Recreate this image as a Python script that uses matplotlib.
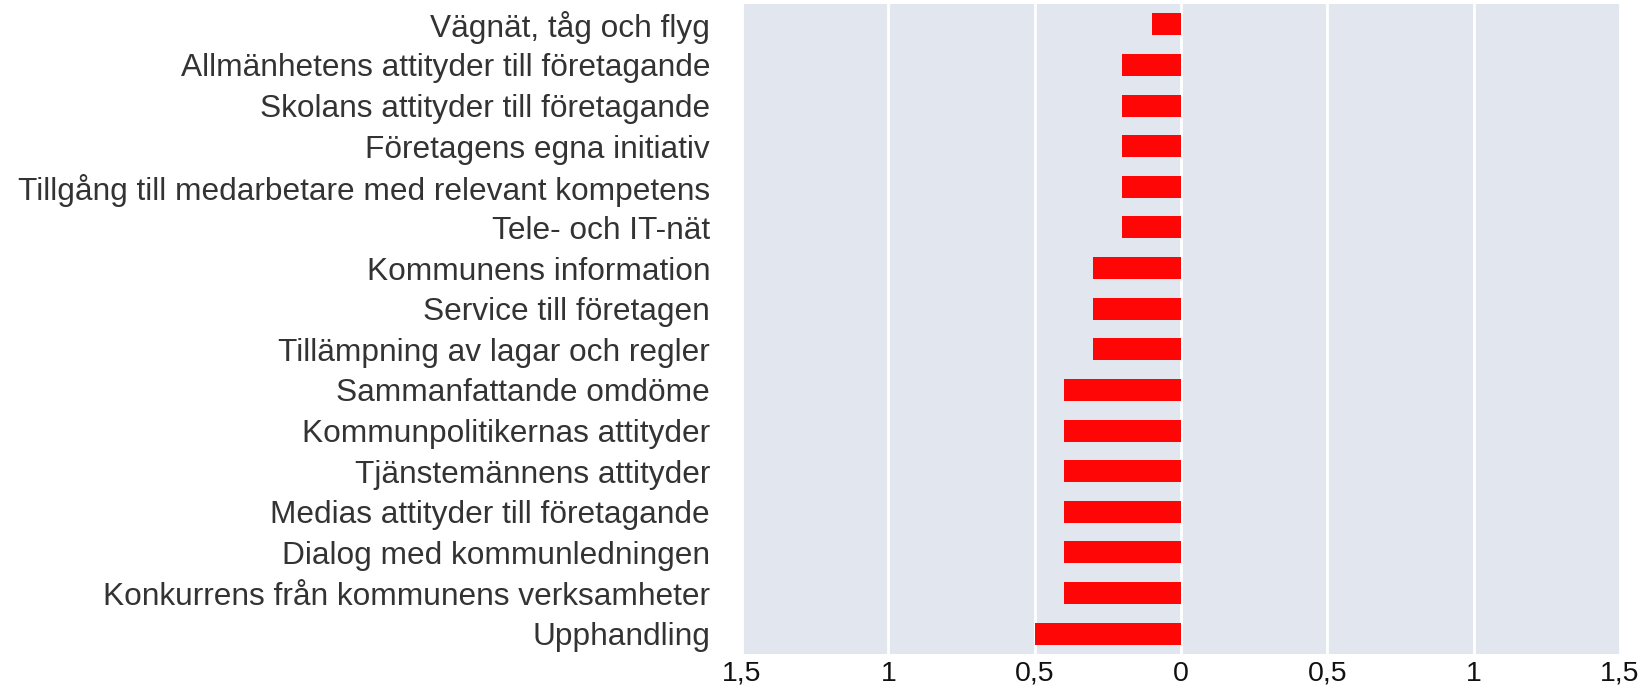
import matplotlib.pyplot as plt
import matplotlib.ticker as mticker

plt.rcParams['font.family'] = ['Liberation Sans', 'DejaVu Sans']

# categories from top to bottom
labels = [
    "Vägnät, tåg och flyg",
    "Allmänhetens attityder till företagande",
    "Skolans attityder till företagande",
    "Företagens egna initiativ",
    "Tillgång till medarbetare med relevant kompetens",
    "Tele- och IT-nät",
    "Kommunens information",
    "Service till företagen",
    "Tillämpning av lagar och regler",
    "Sammanfattande omdöme",
    "Kommunpolitikernas attityder",
    "Tjänstemännens attityder",
    "Medias attityder till företagande",
    "Dialog med kommunledningen",
    "Konkurrens från kommunens verksamheter",
    "Upphandling",
]
values = [-0.1, -0.2, -0.2, -0.2, -0.2, -0.2, -0.3, -0.3, -0.3,
          -0.4, -0.4, -0.4, -0.4, -0.4, -0.4, -0.5]

xticks = [-1.5, -1, -0.5, 0, 0.5, 1, 1.5]

fig = plt.figure(figsize=(16.49, 6.89), dpi=100)
ax = fig.add_axes([742/1649, 1 - 654/689, (1620 - 742)/1649, 650/689])
ax.set_facecolor('#e2e7ef')

ypos = list(range(len(labels)))
ax.barh(ypos, values, height=0.54, color='#ff0606', zorder=3)

ax.set_ylim(len(labels) - 0.5, -0.5)
ax.set_yticks(ypos)
ax.set_yticklabels(labels)
ax.set_xlim(-1.5, 1.5)
ax.set_xticks(xticks)
ax.xaxis.set_major_formatter(mticker.FuncFormatter(
    lambda v, p: ('%g' % abs(v)).replace('.', ',')))

ax.grid(axis='x', color='white', linewidth=2, zorder=1)
ax.grid(axis='y', visible=False)
for s in ax.spines.values():
    s.set_visible(False)
ax.tick_params(axis='y', length=0, pad=23, labelsize=22.8, labelcolor='#333333')
ax.tick_params(axis='x', length=0, pad=5, labelsize=20.5, labelcolor='#111111')

fig.savefig('out.png', dpi=100)
